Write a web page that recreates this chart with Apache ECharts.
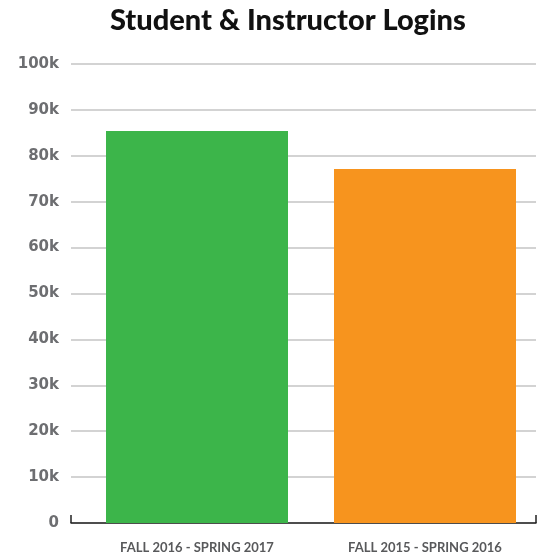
<!DOCTYPE html>
<html>
<head>
<meta charset="utf-8">
<script src="https://cdn.jsdelivr.net/npm/echarts@6/dist/echarts.min.js"></script>
<style>
  html, body { margin: 0; padding: 0; background: #fff; }
  #chart { width: 540px; height: 560px; }
</style>
</head>
<body>
<div id="chart"></div>
<script>
// data
const categories = ['FALL 2016 - SPRING 2017', 'FALL 2015 - SPRING 2016']
const logins = [85400, 77100]
const barColors = ['#3cb54a', '#f7941e']
const yTicks = { min: 0, max: 100000, step: 10000 }

const chart = echarts.init(document.getElementById('chart'))

chart.setOption({
  animation: false,
  title: {
    text: 'Student & Instructor Logins',
    left: 105,
    top: 1,
    textStyle: { fontFamily: 'Lato', fontWeight: 900, fontSize: 29, color: '#111' }
  },
  grid: [
    // grid 0: y labels, gridlines, axis line with end ticks
    { left: 71, right: 4, top: 64, bottom: 37 },
    // grid 1: bars and category labels
    { left: 83, right: 1, top: 64, bottom: 37 }
  ],
  xAxis: [
    {
      gridIndex: 0,
      type: 'value',
      min: 0,
      max: 1,
      interval: 1,
      axisLine: { show: true, lineStyle: { color: '#222', width: 1.5 } },
      axisTick: { show: true, inside: true, length: 8, lineStyle: { color: '#222', width: 1.5 } },
      axisLabel: { show: false },
      splitLine: { show: false }
    },
    {
      gridIndex: 1,
      type: 'category',
      data: categories,
      axisLine: { show: false },
      axisTick: { show: false },
      axisLabel: {
        margin: 18,
        fontFamily: 'Lato',
        fontWeight: 'bold',
        fontSize: 13,
        color: '#58595b'
      }
    }
  ],
  yAxis: [
    {
      gridIndex: 0,
      type: 'value',
      min: yTicks.min,
      max: yTicks.max,
      interval: yTicks.step,
      axisLine: { show: false },
      axisTick: { show: false },
      axisLabel: {
        margin: 12,
        fontFamily: 'DejaVu Sans',
        fontWeight: 'bold',
        fontSize: 15,
        color: '#6d6e71',
        formatter: function (v) { return v === 0 ? '0' : (v / 1000) + 'k' }
      },
      splitLine: { lineStyle: { color: '#c4c4c4', width: 1.5 } }
    },
    {
      gridIndex: 1,
      type: 'value',
      min: yTicks.min,
      max: yTicks.max,
      interval: yTicks.step,
      show: false
    }
  ],
  series: [
    {
      type: 'bar',
      xAxisIndex: 1,
      yAxisIndex: 1,
      barWidth: 182,
      z: 3,
      data: logins.map(function (v, i) {
        return { value: v, itemStyle: { color: barColors[i] } }
      })
    }
  ]
})
</script>
</body>
</html>
